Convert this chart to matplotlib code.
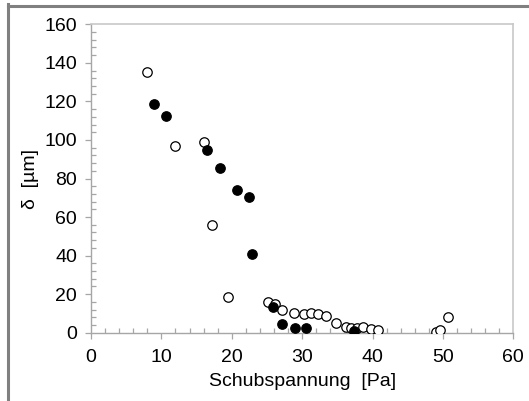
import matplotlib
matplotlib.use("Agg")
import matplotlib.pyplot as plt
from matplotlib.ticker import MultipleLocator
from matplotlib.lines import Line2D

plt.rcParams['font.family'] = ['Liberation Sans', 'DejaVu Sans']

# open circles
open_x = [8.0, 12.0, 16.0, 17.15, 19.5, 25.1, 26.2, 27.1, 28.9, 30.2, 31.3, 32.3,
          33.4, 34.8, 36.3, 36.9, 37.8, 38.7, 39.8, 40.8, 49.0, 49.6, 50.7]
open_y = [135.3, 96.9, 98.9, 56.0, 18.7, 15.8, 14.9, 11.8, 10.1, 9.7, 10.1, 9.7,
          8.8, 5.2, 2.8, 2.3, 2.6, 2.8, 1.9, 1.2, 0.4, 1.4, 8.0]

# filled circles
fill_x = [8.95, 10.66, 16.44, 18.3, 20.8, 22.5, 22.83, 25.8, 27.1, 29.0, 30.6, 37.4]
fill_y = [118.5, 112.3, 94.8, 85.6, 74.0, 70.2, 40.8, 13.2, 4.7, 2.6, 2.6, 0.9]

fig = plt.figure(figsize=(5.29, 4.01), dpi=100)
ax = fig.add_axes([0.172, 0.1703, 0.7983, 0.7691])

ax.plot(open_x, open_y, 'o', ms=6.8, mfc='white', mec='black', mew=0.9, zorder=3)
ax.plot(fill_x, fill_y, 'o', ms=6.8, mfc='black', mec='black', mew=0.9, zorder=4)

ax.set_xlim(0, 60)
ax.set_ylim(0, 160)
ax.xaxis.set_major_locator(MultipleLocator(10))
ax.xaxis.set_minor_locator(MultipleLocator(2))
ax.yaxis.set_major_locator(MultipleLocator(20))
ax.yaxis.set_minor_locator(MultipleLocator(4))

for s in ['top', 'right']:
    ax.spines[s].set_color('#c8c8c8')
    ax.spines[s].set_linewidth(1.2)
for s in ['left', 'bottom']:
    ax.spines[s].set_color('#a6a6a6')
    ax.spines[s].set_linewidth(1.0)

ax.tick_params(which='major', direction='out', length=4, width=0.9, color='#a6a6a6',
               labelsize=14, pad=6)
ax.tick_params(axis='x', which='major', pad=8)
ax.tick_params(which='minor', direction='in', length=3.5, width=0.9, color='#a6a6a6')

ax.set_xlabel('Schubspannung  [Pa]', fontsize=14, labelpad=5)
ax.set_ylabel('δ  [µm]', fontsize=14, labelpad=4)

# grey frame of the picture
fig.add_artist(Line2D([7.5 / 529, 1.0], [1 - 5.5 / 401, 1 - 5.5 / 401],
                      transform=fig.transFigure, color='#808080', lw=2.2))
fig.add_artist(Line2D([7.5 / 529, 7.5 / 529], [0.0, 1 - 4 / 401],
                      transform=fig.transFigure, color='#808080', lw=2.2))

fig.savefig('out.png', dpi=100)
